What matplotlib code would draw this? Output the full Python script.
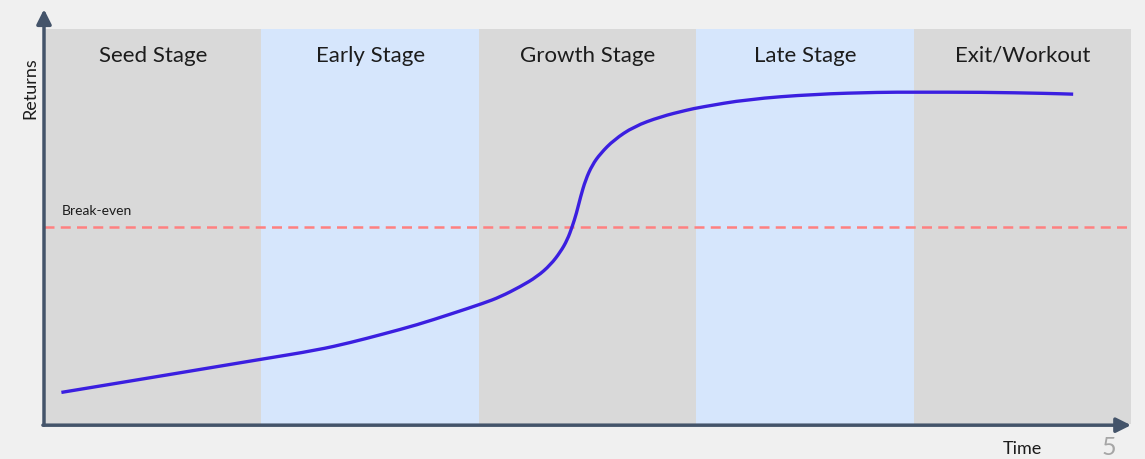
import matplotlib.pyplot as plt
from matplotlib.path import Path
from matplotlib.patches import PathPatch

# stages (one band per stage, unit width each)
stages = ["Seed Stage", "Early Stage", "Growth Stage", "Late Stage", "Exit/Workout"]
band_colors = ["#d9d9d9", "#d6e6fc", "#d9d9d9", "#d6e6fc", "#d9d9d9"]

# returns curve (x in stage units, y in 0..1)
curve_x = [0.08, 0.537, 1.0, 1.255, 1.409, 1.562, 1.716, 1.869, 2.023, 2.099, 2.192,
           2.268, 2.33, 2.376, 2.407, 2.43, 2.449, 2.468, 2.491, 2.522, 2.56, 2.621,
           2.713, 2.836, 2.959, 3.02, 3.235, 3.542, 3.849, 4.0, 4.31, 4.617, 4.734]
curve_y = [0.080, 0.1215, 0.164, 0.187, 0.206, 0.228, 0.251, 0.278, 0.306, 0.322,
           0.348, 0.373, 0.403, 0.436, 0.466, 0.500, 0.533, 0.575, 0.618, 0.656,
           0.685, 0.719, 0.753, 0.778, 0.795, 0.802, 0.822, 0.835, 0.840, 0.840,
           0.840, 0.837, 0.835]

break_even = 0.5

plt.rcParams['font.family'] = ['Lato', 'DejaVu Sans']

fig = plt.figure(figsize=(11.45, 4.59), dpi=100)
fig.patch.set_facecolor("#f0f0f0")
ax = fig.add_axes([44 / 1145, 35 / 459, 1087 / 1145, 395 / 459])
ax.set_xlim(0, 5)
ax.set_ylim(0, 1)
ax.axis("off")

txt = "#1c1c1c"
for i, (name, c) in enumerate(zip(stages, band_colors)):
    ax.axvspan(i, i + 1, color=c, zorder=0, lw=0)
    ax.text(i + 0.5, 0.932, name, ha="center", va="center", fontsize=16, color=txt)

ax.axhline(break_even, color="#ff8080", lw=1.8, dashes=(4, 2.5), zorder=2)
ax.text(0.083, 0.54, "Break-even", ha="left", va="center", fontsize=10, color=txt)

# smooth line through the read points (quadratic segments between midpoints)
pts = list(zip(curve_x, curve_y))
verts = [pts[0]]
codes = [Path.MOVETO]
for k in range(1, len(pts) - 1):
    mid = ((pts[k][0] + pts[k + 1][0]) / 2, (pts[k][1] + pts[k + 1][1]) / 2)
    verts += [pts[k], mid]
    codes += [Path.CURVE3, Path.CURVE3]
verts.append(pts[-1])
codes.append(Path.LINETO)
ax.add_patch(PathPatch(Path(verts, codes), facecolor="none", edgecolor="#3b1fe0",
                       lw=2.4, zorder=3, capstyle="butt"))

axis_color = "#44546a"
ax.annotate("", xy=(0, 1.05), xytext=(0, -0.003), xycoords="axes fraction",
            arrowprops=dict(arrowstyle="-|>", color=axis_color, lw=2.5, mutation_scale=22,
                            shrinkA=0, shrinkB=0), annotation_clip=False)
ax.annotate("", xy=(1.0, -0.003), xytext=(-0.001, -0.003), xycoords="axes fraction",
            arrowprops=dict(arrowstyle="-|>", color=axis_color, lw=2.5, mutation_scale=22,
                            shrinkA=0, shrinkB=0), annotation_clip=False)

ax.text(-0.0129, 0.851, "Returns", rotation=90, ha="center", va="center", fontsize=13,
        color=txt, transform=ax.transAxes, clip_on=False)
ax.text(4.5, -0.063, "Time", ha="center", va="center", fontsize=13, color=txt,
        clip_on=False)
fig.text(0.9685, 0.024, "5", ha="center", va="center", fontsize=18, color="#a6a6a6")

plt.savefig("out.png", dpi=100, facecolor=fig.get_facecolor())
